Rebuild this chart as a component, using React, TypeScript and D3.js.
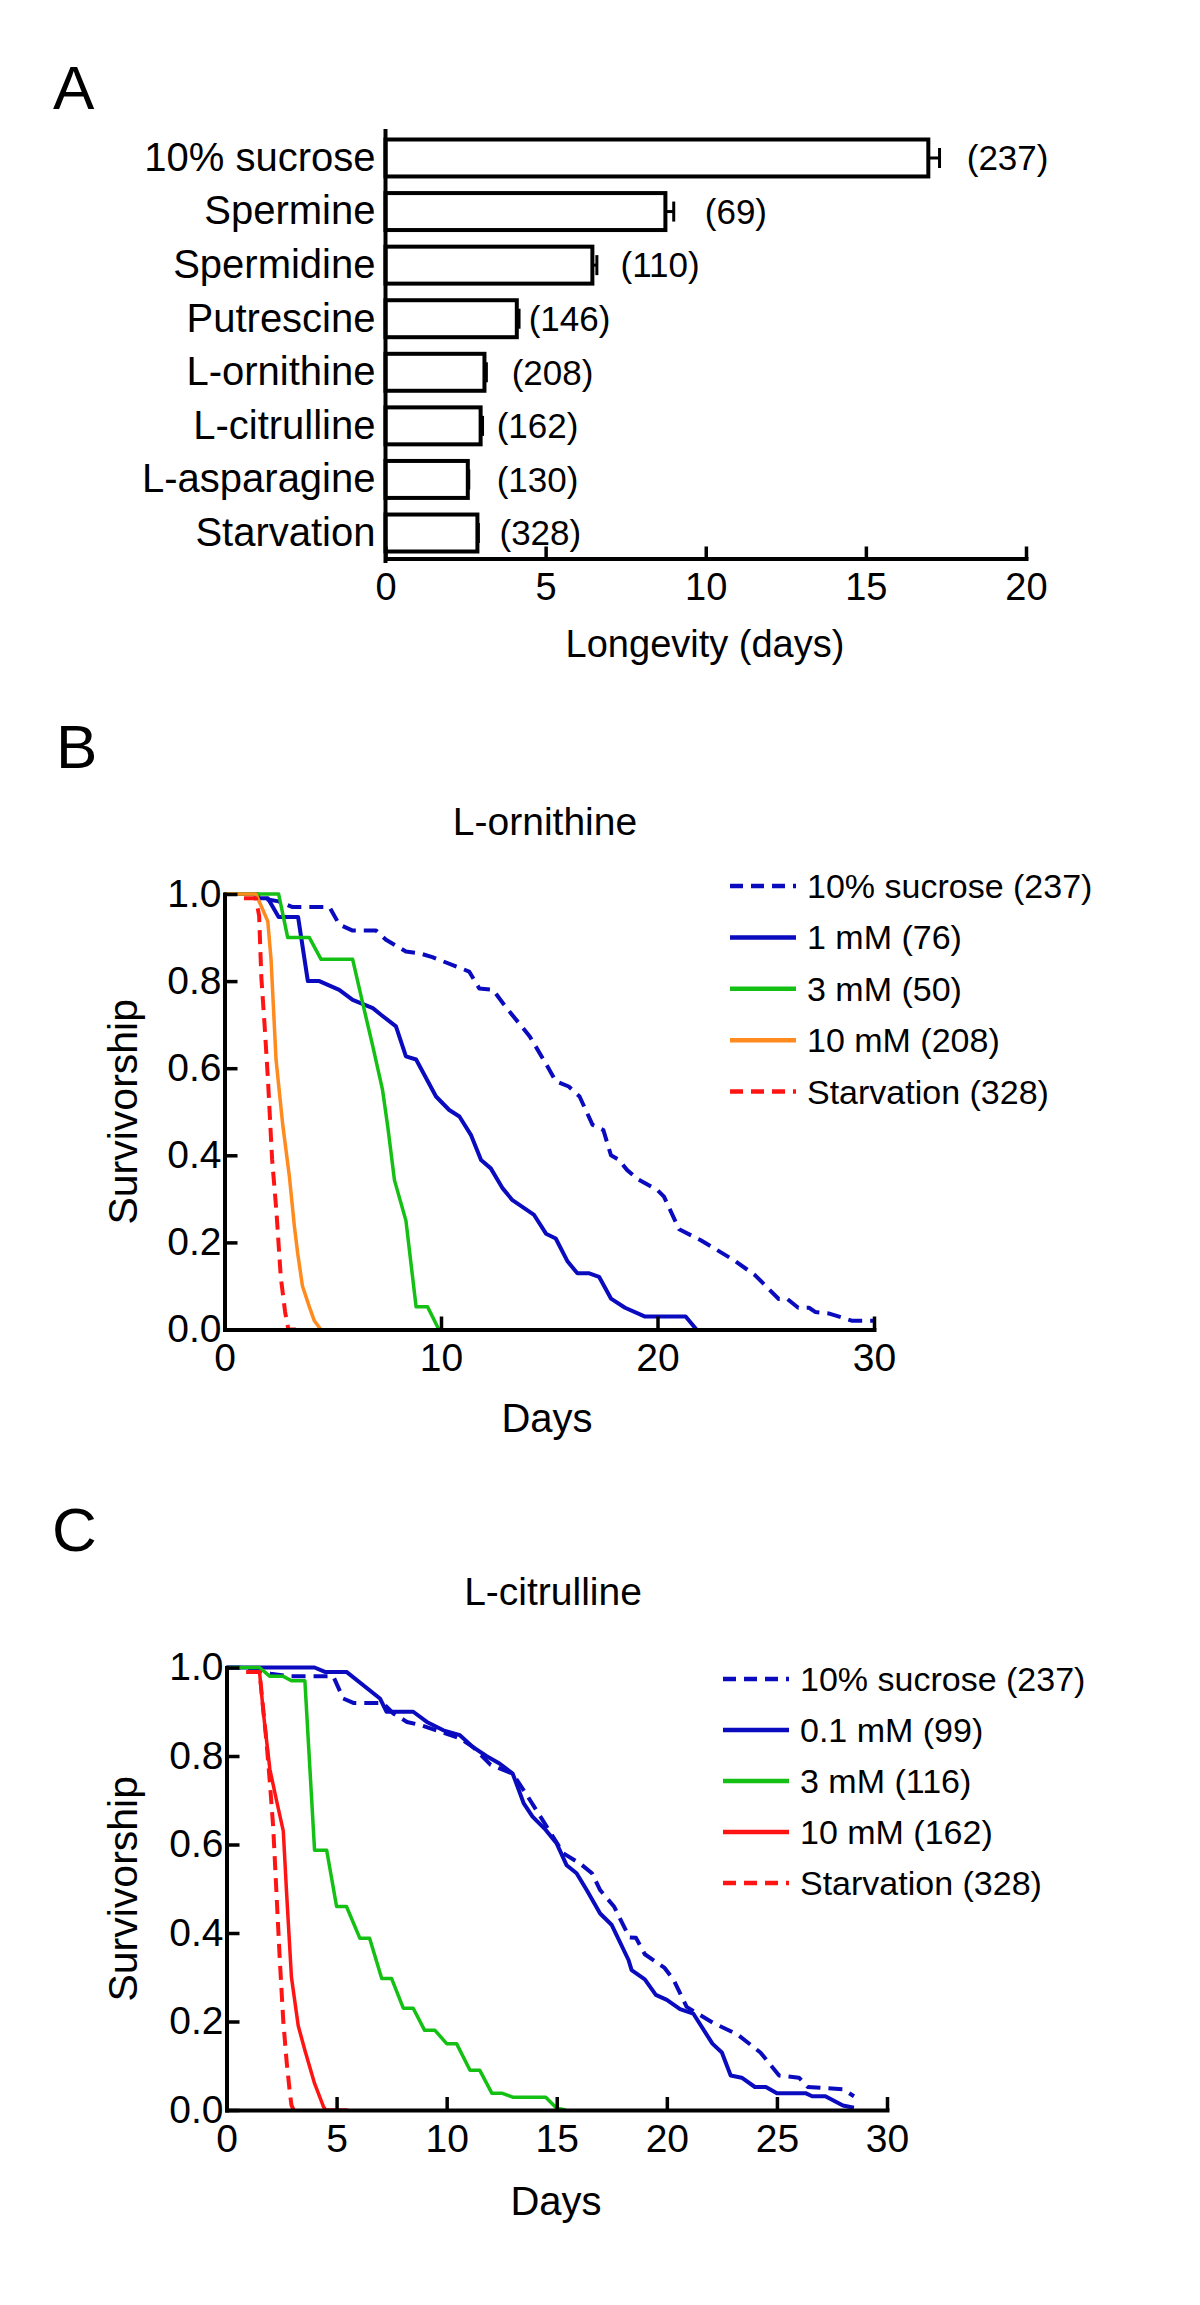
import { useEffect, useRef } from "react";
import * as d3 from "d3";

// Panel A – mean longevity per diet
const barCategories = [
  "10% sucrose",
  "Spermine",
  "Spermidine",
  "Putrescine",
  "L-ornithine",
  "L-citrulline",
  "L-asparagine",
  "Starvation",
];
const barMeans = [16.95, 8.74, 6.46, 4.1, 3.09, 2.97, 2.57, 2.87];
const barErrorTop = [17.3, 9.0, 6.6, 4.17, 3.15, 3.03, 2.6, 2.9];
const barCounts = ["(237)", "(69)", "(110)", "(146)", "(208)", "(162)", "(130)", "(328)"];
const countLabelAt = [18.15, 9.97, 7.34, 4.47, 3.94, 3.47, 3.47, 3.56];
const barTicks = [0, 5, 10, 15, 20];

// Panel B – L-ornithine survivorship [day, fraction alive]
const ornSucrose: [number, number][] = [
  [0, 1], [1.5, 1], [1.7, 0.99], [2.5, 0.983], [3.15, 0.97], [4.85, 0.97], [5.3, 0.93],
  [5.92, 0.916], [7.0, 0.916], [7.46, 0.895], [8.38, 0.868], [9.0, 0.864], [9.6, 0.855],
  [11.3, 0.822], [11.77, 0.783], [12.4, 0.78], [13.0, 0.74], [14.1, 0.673], [14.85, 0.61],
  [15.3, 0.57], [15.9, 0.558], [16.4, 0.535], [17.0, 0.47], [17.5, 0.458], [17.85, 0.4],
  [18.2, 0.39], [18.6, 0.366], [19.1, 0.345], [20.0, 0.32], [20.3, 0.305], [21.0, 0.23],
  [22.0, 0.205], [23.5, 0.16], [24.5, 0.125], [25.6, 0.07], [26.0, 0.07], [26.5, 0.05],
  [27.0, 0.05], [27.3, 0.04], [27.9, 0.037], [29.0, 0.02], [30, 0.02],
];
const orn1mM: [number, number][] = [
  [0, 1], [1.4, 1], [1.5, 0.99], [2.0, 0.99], [2.5, 0.947], [3.4, 0.947], [3.85, 0.8],
  [4.38, 0.8], [5.3, 0.78], [5.92, 0.757], [6.85, 0.738], [7.3, 0.72], [7.92, 0.696],
  [8.38, 0.627], [8.85, 0.62], [9.77, 0.535], [10.38, 0.504], [10.85, 0.489], [11.38, 0.447],
  [11.85, 0.389], [12.3, 0.37], [12.85, 0.324], [13.3, 0.297], [14.3, 0.263], [14.85, 0.22],
  [15.3, 0.209], [15.85, 0.156], [16.3, 0.129], [16.85, 0.129], [17.3, 0.121], [17.85, 0.071],
  [18.5, 0.05], [19.4, 0.03], [21.3, 0.03], [21.8, 0],
];
const orn3mM: [number, number][] = [
  [0, 1], [2.5, 1], [2.92, 0.9], [3.92, 0.9], [4.46, 0.85], [5.92, 0.85], [6.38, 0.75],
  [6.85, 0.65], [7.3, 0.55], [7.54, 0.466], [7.85, 0.343], [8.38, 0.25], [8.85, 0.052],
  [9.38, 0.052], [9.7, 0.02], [9.9, 0],
];
const orn10mM: [number, number][] = [
  [0, 1], [1.45, 1], [1.77, 0.964], [2.0, 0.937], [2.15, 0.85], [2.38, 0.62], [2.69, 0.47],
  [3.0, 0.35], [3.23, 0.236], [3.38, 0.175], [3.6, 0.1], [3.92, 0.052], [4.15, 0.02], [4.45, 0],
];
const ornStarvation: [number, number][] = [
  [0.9, 0.99], [1.45, 0.99], [1.6, 0.95], [1.7, 0.81], [1.85, 0.7], [2.0, 0.58], [2.2, 0.39],
  [2.4, 0.27], [2.6, 0.12], [2.8, 0.04], [2.95, 0], [3.3, 0],
];
const ornLegend = ["10% sucrose (237)", "1 mM (76)", "3 mM (50)", "10 mM (208)", "Starvation (328)"];
const ornTicks = [0, 10, 20, 30];

// Panel C – L-citrulline survivorship
const citSucrose: [number, number][] = [
  [0, 1], [0.9, 1], [2.0, 0.986], [2.9, 0.98], [4.85, 0.98], [5.3, 0.93], [5.76, 0.92],
  [7.1, 0.92], [7.58, 0.896], [8.2, 0.877], [8.8, 0.87], [9.7, 0.855], [10.6, 0.84],
  [11.2, 0.82], [12.0, 0.78], [13.0, 0.76], [13.6, 0.715], [14.5, 0.644], [15.3, 0.58],
  [16.06, 0.557], [16.6, 0.535], [16.97, 0.497], [17.6, 0.46], [18.3, 0.39], [18.6, 0.389],
  [19.0, 0.352], [19.9, 0.321], [20.3, 0.295], [20.9, 0.233], [22.1, 0.197], [23.2, 0.171],
  [24.25, 0.13], [25.1, 0.078], [26.0, 0.073], [26.4, 0.052], [28.0, 0.047], [28.5, 0.031],
];
const cit01mM: [number, number][] = [
  [0, 1], [4.0, 1], [4.47, 0.99], [5.45, 0.99], [6.97, 0.93], [7.27, 0.9], [8.48, 0.9],
  [9.1, 0.877], [9.85, 0.858], [10.6, 0.847], [11.2, 0.82], [11.8, 0.8], [12.4, 0.783],
  [13.0, 0.76], [13.5, 0.693], [13.9, 0.663], [14.5, 0.633], [15.0, 0.602], [15.45, 0.553],
  [15.9, 0.535], [16.36, 0.497], [16.97, 0.444], [17.5, 0.418], [18.26, 0.339], [18.4, 0.316],
  [19.0, 0.295], [19.5, 0.26], [20.0, 0.249], [20.6, 0.228], [21.2, 0.218], [22.07, 0.15],
  [22.5, 0.13], [22.9, 0.078], [23.4, 0.073], [24.0, 0.052], [24.5, 0.052], [25.0, 0.038],
  [26.3, 0.038], [26.6, 0.031], [27.2, 0.031], [28.0, 0.01], [28.5, 0.005],
];
const cit3mM: [number, number][] = [
  [0, 1], [1.5, 1], [1.97, 0.98], [2.58, 0.98], [2.95, 0.97], [3.56, 0.97], [4.0, 0.587],
  [4.55, 0.587], [5.0, 0.46], [5.45, 0.46], [6.06, 0.388], [6.5, 0.388], [7.05, 0.297],
  [7.5, 0.297], [8.03, 0.23], [8.48, 0.23], [9.0, 0.18], [9.47, 0.18], [10.0, 0.15],
  [10.45, 0.15], [11.06, 0.09], [11.5, 0.09], [12.05, 0.038], [12.5, 0.038], [13.0, 0.029],
  [14.5, 0.029], [15.0, 0.004], [15.4, 0],
];
const cit10mM: [number, number][] = [
  [0.9, 0.99], [1.5, 0.99], [1.67, 0.9], [1.97, 0.77], [2.27, 0.7], [2.58, 0.63], [2.73, 0.49],
  [2.95, 0.3], [3.26, 0.19], [3.56, 0.135], [4.0, 0.06], [4.4, 0.008], [4.5, 0], [5.5, 0],
];
const citStarvation: [number, number][] = [
  [0.9, 0.99], [1.5, 0.99], [1.6, 0.94], [1.82, 0.83], [1.97, 0.74], [2.12, 0.64], [2.27, 0.49],
  [2.42, 0.34], [2.58, 0.2], [2.73, 0.11], [2.88, 0.038], [2.95, 0.011], [3.05, 0], [3.4, 0],
];
const citLegend = ["10% sucrose (237)", "0.1 mM (99)", "3 mM (116)", "10 mM (162)", "Starvation (328)"];
const citTicks = [0, 5, 10, 15, 20, 25, 30];

const survTicks = [0, 0.2, 0.4, 0.6, 0.8, 1.0];

const BLUE = "#0a0abe";
const GREEN = "#14c014";
const ORANGE = "#ff8a1e";
const RED = "#ff1414";
const FONT = "'Liberation Sans', Arial, Helvetica, sans-serif";

type Series = { data: [number, number][]; color: string; dashed: boolean; width: number };

function styleAxis(axisG: any, fontSize: number) {
  axisG.select(".domain").attr("stroke", "#000").attr("stroke-width", 4).attr("stroke-linecap", "square");
  axisG.selectAll(".tick line").attr("stroke", "#000").attr("stroke-width", 3.5);
  axisG.selectAll(".tick text").attr("fill", "#000").attr("font-size", fontSize).attr("font-family", FONT);
  axisG.attr("font-size", null).attr("font-family", null);
}

function drawSurvival(
  svg: any,
  opts: {
    xRange: [number, number];
    yRange: [number, number];
    xTicks: number[];
    series: Series[];
    legend: string[];
    legendX: number;
    legendY: number;
    legendStep: number;
    title: string;
    titleX: number;
    titleY: number;
    daysX: number;
    daysY: number;
  }
) {
  const x = d3.scaleLinear().domain([0, 30]).range(opts.xRange);
  const y = d3.scaleLinear().domain([0, 1]).range(opts.yRange);
  const g = svg.append("g");

  const line = d3
    .line<[number, number]>()
    .x((d) => x(d[0]))
    .y((d) => y(d[1]));

  // curves, drawn back to front
  opts.series.forEach((s) => {
    g.append("path")
      .datum(s.data)
      .attr("fill", "none")
      .attr("stroke", s.color)
      .attr("stroke-width", s.width)
      .attr("stroke-linejoin", "round")
      .attr("stroke-dasharray", s.dashed ? "14,8" : null)
      .attr("d", line);
  });

  const xAxis = g
    .append("g")
    .attr("transform", `translate(0,${opts.yRange[0]})`)
    .call(d3.axisBottom(x).tickValues(opts.xTicks).tickFormat(d3.format("d")).tickSizeInner(-13).tickSizeOuter(0).tickPadding(14));
  styleAxis(xAxis, 39);

  const yAxis = g
    .append("g")
    .attr("transform", `translate(${opts.xRange[0]},0)`)
    .call(d3.axisLeft(y).tickValues(survTicks).tickFormat(d3.format(".1f")).tickSizeInner(-13).tickSizeOuter(0).tickPadding(3));
  styleAxis(yAxis, 39);

  g.append("text")
    .attr("x", opts.titleX)
    .attr("y", opts.titleY)
    .attr("text-anchor", "middle")
    .attr("font-size", 39)
    .attr("font-family", FONT)
    .text(opts.title);

  g.append("text")
    .attr("x", opts.daysX)
    .attr("y", opts.daysY)
    .attr("text-anchor", "middle")
    .attr("font-size", 40)
    .attr("font-family", FONT)
    .text("Days");

  const midY = (opts.yRange[0] + opts.yRange[1]) / 2;
  g.append("text")
    .attr("transform", `translate(137,${midY}) rotate(-90)`)
    .attr("text-anchor", "middle")
    .attr("font-size", 41)
    .attr("font-family", FONT)
    .text("Survivorship");

  const legend = g.append("g");
  opts.series.forEach((s, i) => {
    const ly = opts.legendY + i * opts.legendStep;
    legend
      .append("line")
      .attr("x1", opts.legendX)
      .attr("x2", opts.legendX + 66)
      .attr("y1", ly)
      .attr("y2", ly)
      .attr("stroke", s.color)
      .attr("stroke-width", 4.5)
      .attr("stroke-dasharray", s.dashed ? "13,8" : null);
    legend
      .append("text")
      .attr("x", opts.legendX + 77)
      .attr("y", ly)
      .attr("dy", "0.35em")
      .attr("font-size", 34)
      .attr("font-family", FONT)
      .text(opts.legend[i]);
  });
}

function Figure() {
  const svgRef = useRef<SVGSVGElement | null>(null);

  useEffect(() => {
    const svgElement = svgRef.current;
    if (!svgElement) return;
    const svg = d3.select(svgElement);
    svg.selectAll("*").remove();

    // panel letters
    [
      ["A", 53, 109],
      ["B", 56, 768],
      ["C", 52, 1551],
    ].forEach(([t, px, py]) => {
      svg
        .append("text")
        .attr("x", px as number)
        .attr("y", py as number)
        .attr("font-size", 62)
        .attr("font-family", FONT)
        .text(t as string);
    });

    // ---- Panel A ----
    const xA = d3.scaleLinear().domain([0, 20]).range([385.5, 1026]);
    const yA = d3.scaleBand().domain(barCategories).range([132, 559]).paddingInner(0.31).paddingOuter(0.14);
    const gA = svg.append("g");

    gA.selectAll(".bar")
      .data(barCategories)
      .enter()
      .append("rect")
      .attr("class", "bar")
      .attr("x", xA(0))
      .attr("y", (d) => yA(d) as number)
      .attr("width", (_, i) => xA(barMeans[i]) - xA(0))
      .attr("height", yA.bandwidth())
      .attr("fill", "#fff")
      .attr("stroke", "#000")
      .attr("stroke-width", 4);

    const bw = yA.bandwidth();
    barCategories.forEach((c, i) => {
      const cy = (yA(c) as number) + bw / 2;
      gA.append("line")
        .attr("x1", xA(barMeans[i]))
        .attr("x2", xA(barErrorTop[i]))
        .attr("y1", cy)
        .attr("y2", cy)
        .attr("stroke", "#000")
        .attr("stroke-width", 3);
      gA.append("line")
        .attr("x1", xA(barErrorTop[i]))
        .attr("x2", xA(barErrorTop[i]))
        .attr("y1", cy - 10)
        .attr("y2", cy + 10)
        .attr("stroke", "#000")
        .attr("stroke-width", 3);
      gA.append("text")
        .attr("x", xA(countLabelAt[i]))
        .attr("y", cy)
        .attr("dy", "0.35em")
        .attr("font-size", 35)
        .attr("font-family", FONT)
        .text(barCounts[i]);
    });

    const xAxisA = gA
      .append("g")
      .attr("transform", "translate(0,558.5)")
      .call(d3.axisBottom(xA).tickValues(barTicks).tickFormat(d3.format("d")).tickSizeInner(-12).tickSizeOuter(0).tickPadding(15));
    styleAxis(xAxisA, 38);

    const yAxisA = gA
      .append("g")
      .attr("transform", `translate(${xA(0)},0)`)
      .call(d3.axisLeft(yA).tickSize(0).tickPadding(10));
    styleAxis(yAxisA, 40);
    yAxisA.select(".domain").attr("d", "M0,131V561");

    gA.append("text")
      .attr("x", 705)
      .attr("y", 657)
      .attr("text-anchor", "middle")
      .attr("font-size", 38)
      .attr("font-family", FONT)
      .text("Longevity (days)");

    // ---- Panel B ----
    drawSurvival(svg, {
      xRange: [224.5, 874],
      yRange: [1329.5, 894],
      xTicks: ornTicks,
      series: [
        { data: ornSucrose, color: BLUE, dashed: true, width: 4 },
        { data: orn1mM, color: BLUE, dashed: false, width: 4 },
        { data: orn3mM, color: GREEN, dashed: false, width: 3.5 },
        { data: orn10mM, color: ORANGE, dashed: false, width: 3.5 },
        { data: ornStarvation, color: RED, dashed: true, width: 4 },
      ],
      legend: ornLegend,
      legendX: 730,
      legendY: 886,
      legendStep: 51.4,
      title: "L-ornithine",
      titleX: 545,
      titleY: 835,
      daysX: 547,
      daysY: 1432,
    });

    // ---- Panel C ----
    drawSurvival(svg, {
      xRange: [226.5, 887],
      yRange: [2110, 1667.5],
      xTicks: citTicks,
      series: [
        { data: citSucrose, color: BLUE, dashed: true, width: 4 },
        { data: cit01mM, color: BLUE, dashed: false, width: 4 },
        { data: cit3mM, color: GREEN, dashed: false, width: 3.5 },
        { data: cit10mM, color: RED, dashed: false, width: 3.5 },
        { data: citStarvation, color: RED, dashed: true, width: 4 },
      ],
      legend: citLegend,
      legendX: 723,
      legendY: 1679,
      legendStep: 51,
      title: "L-citrulline",
      titleX: 553,
      titleY: 1605,
      daysX: 556,
      daysY: 2215,
    });
  }, []);

  return (
    <svg
      ref={svgRef}
      width={1200}
      height={2305}
      style={{ position: "absolute", left: 0, top: 0, background: "#fff" }}
      role="img"
      aria-label="Longevity and survivorship charts"
    />
  );
}

export default function App() {
  return <Figure />;
}
